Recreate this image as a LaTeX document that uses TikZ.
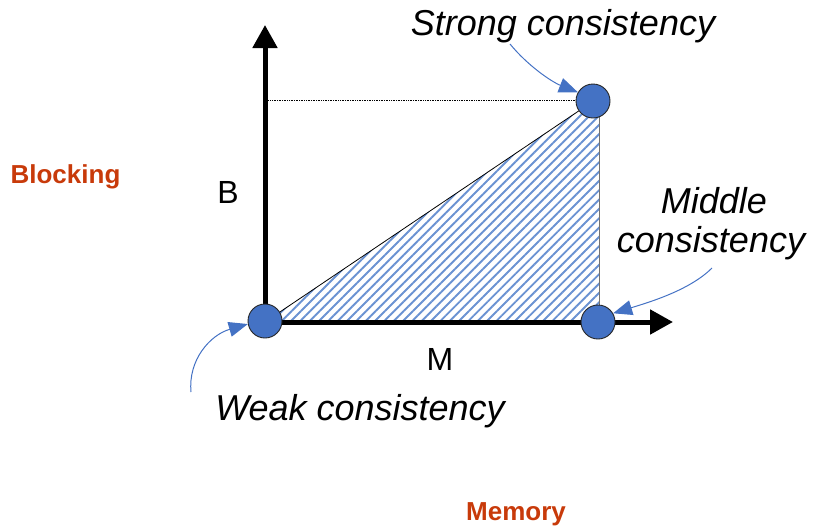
\documentclass[tikz,border=0pt]{standalone}
\usepackage{fontspec}
\setmainfont{Liberation Sans}
\usetikzlibrary{arrows.meta,patterns.meta}
\definecolor{dotblue}{HTML}{4472C4}
\definecolor{hatchblue}{HTML}{6A92D2}
\definecolor{labred}{RGB}{200,58,10}
\tikzset{
  axis/.style={line width=5pt,-{Triangle[length=23pt,width=24pt]}},
  dot/.style={circle,fill=dotblue,draw=black!85,line width=0.9pt,minimum size=34pt,inner sep=0pt},
  callout/.style={dotblue,line width=1pt,-{Triangle[length=19pt,width=15pt]}},
  itlab/.style={font=\fontsize{36}{40}\selectfont\itshape,anchor=base,inner sep=0pt},
  axlab/.style={font=\fontsize{32}{36}\selectfont,anchor=base,inner sep=0pt},
  redlab/.style={font=\fontsize{26}{30}\selectfont\bfseries,text=labred,anchor=base,inner sep=0pt}
}
\begin{document}
\begin{tikzpicture}[x=1pt,y=-1pt]
\useasboundingbox (0,0) rectangle (815,528);
% coordinates
\coordinate (O) at (265,322);
\coordinate (Ytip) at (265,25);
\coordinate (Xtip) at (673,322);
\coordinate (Ytop) at (265,100);
\coordinate (TR) at (599,112);
% hatched triangle
\path[pattern={Lines[angle=45,distance=6.6pt,line width=1.9pt]},pattern color=hatchblue]
  (265,322) -- (592,102) -- (599,112) -- (599,322) -- cycle;
\draw[black,line width=0.8pt] (265,322) -- (592,102);
\draw[black!55,line width=0.9pt] (TR) -- (599,322);
% dotted guide
\draw[black,line width=0.7pt,densely dotted] (Ytop) -- (593,100);
% axes
\draw[axis] (265,324) -- (Ytip);
\draw[axis] (263,322) -- (Xtip);
% dots
\node[dot] (weak) at (265,321) {};
\node[dot] (strong) at (593,101) {};
\node[dot] (middle) at (598,322) {};
% labels
\node[itlab] (strongtxt) at (563,35) {Strong consistency};
\node[itlab] (middle1) at (714,213) {Middle};
\node[itlab] (middle2) at (711,252) {consistency};
\node[itlab] (weaktxt) at (360,420) {Weak consistency};
\node[axlab] (btxt) at (228,203) {B};
\node[axlab] (mtxt) at (440,370) {M};
\node[redlab] (blocking) at (65.5,183) {Blocking};
\node[redlab] (memory) at (516,520) {Memory};
% callouts
\coordinate (c1) at (510,44);
\coordinate (c2) at (712,268);
\coordinate (c3) at (191,392);
\draw[callout] (c1) .. controls (528,66) and (552,82) .. (strong.150);
\draw[callout] (c2) .. controls (690,290) and (650,302) .. (middle.30);
\draw[callout] (c3) .. controls (188,360) and (210,335) .. (weak.190);
\end{tikzpicture}
\end{document}
